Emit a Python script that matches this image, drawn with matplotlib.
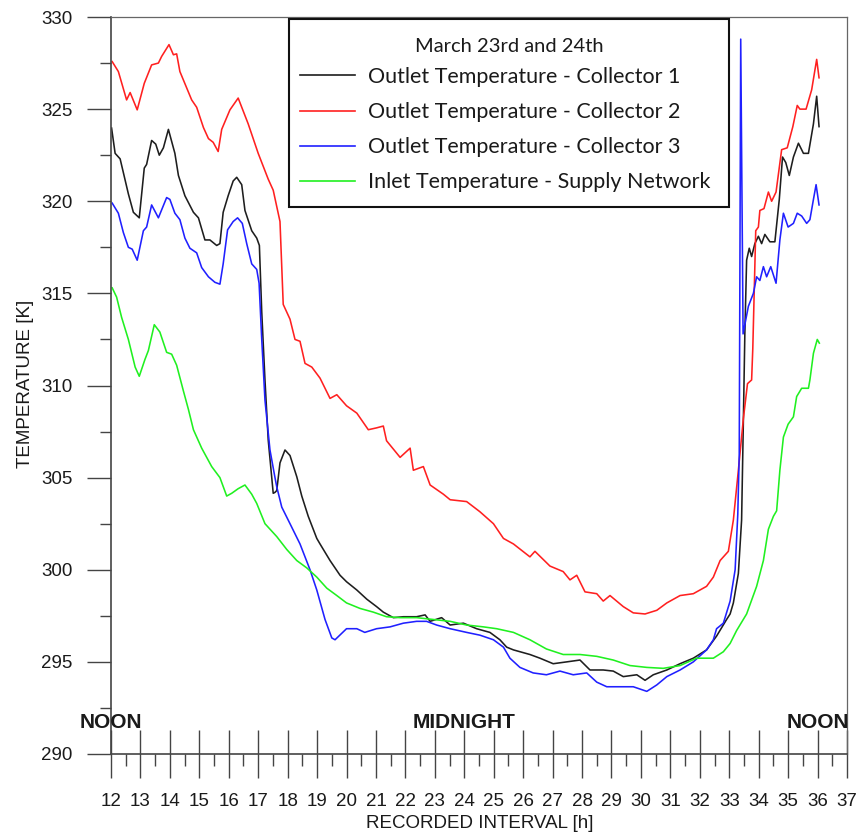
import matplotlib
matplotlib.use("Agg")
import matplotlib.pyplot as plt
from matplotlib.ticker import MultipleLocator
from matplotlib.patches import Rectangle

# ---------------- data ----------------
c1_h = [12.02, 12.14, 12.31, 12.59, 12.76, 12.96, 13.13, 13.21, 13.38, 13.52, 13.64, 13.78, 13.95,
        14.17, 14.29, 14.51, 14.80, 14.97, 15.19, 15.36, 15.59, 15.70, 15.81, 15.98, 16.15, 16.27,
        16.44, 16.55, 16.78, 16.95, 17.04, 17.12, 17.23, 17.34, 17.51, 17.57, 17.63, 17.74, 17.91,
        18.08, 18.31, 18.48, 18.70, 18.99, 19.10, 19.44, 19.78, 20.00, 20.35, 20.69, 21.02, 21.25,
        21.59, 21.93, 22.38, 22.67, 22.84, 23.23, 23.52, 23.97, 24.42, 24.87, 25.21, 25.44, 25.67,
        26.23, 26.57, 27.02, 27.48, 27.93, 28.27, 28.72, 29.06, 29.40, 29.86, 30.14, 30.42, 30.88,
        31.33, 31.78, 32.23, 32.57, 32.91, 33.03, 33.14, 33.31, 33.42, 33.48, 33.53, 33.59, 33.68,
        33.76, 33.87, 33.99, 34.10, 34.21, 34.38, 34.55, 34.70, 34.81, 34.92, 35.04, 35.18, 35.35,
        35.52, 35.69, 35.86, 35.97, 36.05]
c1_t = [323.97, 322.6, 322.3, 320.4, 319.4, 319.1, 321.8, 322.0, 323.3, 323.1, 322.5, 322.9, 323.9,
        322.6, 321.4, 320.3, 319.4, 319.1, 317.9, 317.9, 317.6, 317.7, 319.4, 320.3, 321.1, 321.3,
        320.9, 319.5, 318.4, 318.0, 317.6, 314.0, 310.3, 307.05, 304.15, 304.2, 304.3, 305.8, 306.5,
        306.2, 305.05, 304.0, 302.9, 301.7, 301.4, 300.5, 299.7, 299.35, 298.9, 298.4, 298.0, 297.7,
        297.4, 297.45, 297.45, 297.55, 297.2, 297.4, 297.0, 297.1, 296.8, 296.6, 296.2, 295.8, 295.65,
        295.4, 295.2, 294.9, 295.0, 295.1, 294.56, 294.56, 294.5, 294.2, 294.3, 294.0, 294.3, 294.56,
        294.9, 295.2, 295.65, 296.4, 297.3, 297.6, 298.2, 299.8, 302.7, 308.1, 312.8, 316.8, 317.45,
        317.0, 317.7, 318.1, 317.7, 318.2, 317.8, 317.8, 320.1, 322.4, 322.1, 321.4, 322.4, 323.15,
        322.6, 322.6, 324.2, 325.7, 324.05]

c2_h = [12.04, 12.25, 12.53, 12.65, 12.89, 13.13, 13.38, 13.61, 13.72, 13.97, 14.12, 14.23, 14.34,
        14.74, 14.91, 15.14, 15.31, 15.47, 15.64, 15.76, 16.04, 16.32, 16.66, 17.00, 17.34, 17.51,
        17.74, 17.85, 18.08, 18.25, 18.42, 18.59, 18.82, 19.10, 19.44, 19.67, 20.00, 20.35, 20.74,
        21.02, 21.25, 21.36, 21.82, 22.16, 22.27, 22.61, 22.84, 23.29, 23.52, 24.08, 24.53, 24.99,
        25.33, 25.67, 26.23, 26.40, 26.91, 27.36, 27.59, 27.82, 28.10, 28.50, 28.72, 28.95, 29.40,
        29.74, 30.14, 30.54, 30.88, 31.33, 31.78, 32.23, 32.46, 32.69, 32.97, 33.14, 33.31, 33.48,
        33.62, 33.76, 33.80, 33.90, 33.99, 34.04, 34.18, 34.33, 34.44, 34.59, 34.78, 34.97, 35.16,
        35.31, 35.40, 35.61, 35.80, 35.97, 36.05]
c2_t = [327.58, 327.04, 325.5, 325.9, 324.96, 326.4, 327.4, 327.5, 327.86, 328.5, 327.95, 328.0, 327.04,
        325.5, 325.1, 324.0, 323.4, 323.2, 322.7, 323.9, 324.96, 325.6, 324.2, 322.6, 321.2, 320.6,
        318.9, 314.4, 313.6, 312.5, 312.4, 311.2, 311.0, 310.4, 309.3, 309.5, 308.9, 308.5, 307.6,
        307.7, 307.8, 307.0, 306.1, 306.6, 305.4, 305.6, 304.6, 304.1, 303.8, 303.7, 303.15, 302.5,
        301.7, 301.4, 300.7, 301.0, 300.2, 299.9, 299.45, 299.7, 298.8, 298.7, 298.3, 298.6, 298.0,
        297.66, 297.6, 297.8, 298.2, 298.6, 298.7, 299.1, 299.6, 300.5, 301.0, 302.7, 305.4, 308.2,
        310.1, 310.3, 312.0, 318.4, 318.6, 319.5, 319.6, 320.5, 320.0, 320.5, 322.8, 322.9, 324.05,
        325.2, 325.0, 325.0, 326.05, 327.7, 326.7]

c3_h = [12.04, 12.25, 12.42, 12.59, 12.72, 12.89, 13.10, 13.21, 13.38, 13.61, 13.89, 14.00, 14.17,
        14.34, 14.51, 14.68, 14.91, 15.08, 15.31, 15.53, 15.70, 15.81, 15.96, 16.15, 16.30, 16.46,
        16.61, 16.78, 16.95, 17.03, 17.12, 17.23, 17.40, 17.57, 17.63, 17.80, 18.08, 18.42, 18.76,
        18.99, 19.27, 19.50, 19.61, 20.00, 20.35, 20.62, 21.02, 21.48, 21.93, 22.38, 22.72, 23.06,
        23.52, 24.08, 24.53, 24.99, 25.33, 25.55, 25.89, 26.34, 26.79, 27.25, 27.70, 28.16, 28.50,
        28.84, 29.29, 29.74, 30.20, 30.54, 30.88, 31.33, 31.78, 32.23, 32.46, 32.57, 32.80, 33.03,
        33.20, 33.29, 33.34, 33.39, 33.47, 33.65, 33.82, 33.93, 34.04, 34.16, 34.27, 34.41, 34.59,
        34.72, 34.84, 35.00, 35.18, 35.31, 35.46, 35.63, 35.74, 35.86, 35.95, 36.05]
c3_t = [319.9, 319.35, 318.3, 317.5, 317.4, 316.8, 318.4, 318.6, 319.8, 319.1, 320.2, 320.1, 319.35,
        319.0, 318.0, 317.45, 317.2, 316.4, 315.9, 315.6, 315.5, 316.6, 318.45, 318.9, 319.1, 318.8,
        317.7, 316.6, 316.3, 315.55, 312.5, 309.2, 306.5, 305.0, 304.5, 303.4, 302.5, 301.4, 300.0,
        298.9, 297.3, 296.3, 296.2, 296.8, 296.8, 296.6, 296.8, 296.9, 297.1, 297.2, 297.2, 297.0,
        296.8, 296.6, 296.45, 296.2, 295.8, 295.2, 294.7, 294.4, 294.3, 294.5, 294.3, 294.4, 293.9,
        293.65, 293.65, 293.65, 293.4, 293.75, 294.2, 294.56, 295.0, 295.65, 296.2, 296.8, 297.1, 298.3,
        300.0, 303.0, 306.3, 328.8, 312.8, 314.3, 315.0, 315.9, 315.7, 316.45, 315.9, 316.45, 315.55,
        317.9, 319.35, 318.6, 318.8, 319.35, 319.2, 318.8, 319.0, 320.1, 320.9, 319.8]

inlet_h = [12.04, 12.19, 12.36, 12.59, 12.82, 12.96, 13.15, 13.27, 13.47, 13.66, 13.89, 14.06, 14.23,
           14.46, 14.63, 14.80, 15.08, 15.42, 15.70, 15.93, 16.10, 16.32, 16.55, 16.78, 16.95, 17.23,
           17.63, 17.97, 18.31, 18.65, 18.99, 19.33, 19.67, 20.00, 20.46, 20.91, 21.36, 21.82, 22.38,
           22.95, 23.52, 24.08, 24.65, 25.10, 25.67, 26.23, 26.79, 27.36, 27.93, 28.50, 29.06, 29.63,
           30.20, 30.76, 31.33, 31.89, 32.46, 32.80, 33.03, 33.25, 33.59, 33.93, 34.16, 34.33, 34.50,
           34.61, 34.72, 34.84, 35.00, 35.18, 35.29, 35.46, 35.69, 35.74, 35.86, 35.99, 36.06]
inlet_t = [315.3, 314.8, 313.7, 312.5, 311.0, 310.5, 311.4, 311.9, 313.3, 312.9, 311.8, 311.7, 311.1,
           309.7, 308.7, 307.6, 306.6, 305.6, 305.0, 304.0, 304.15, 304.4, 304.6, 304.1, 303.6, 302.5,
           301.8, 301.1, 300.5, 300.1, 299.6, 299.0, 298.6, 298.2, 297.9, 297.7, 297.45, 297.4, 297.4,
           297.3, 297.2, 297.0, 296.9, 296.8, 296.6, 296.2, 295.7, 295.4, 295.4, 295.3, 295.1, 294.8,
           294.7, 294.65, 294.8, 295.2, 295.2, 295.55, 296.0, 296.7, 297.6, 299.1, 300.5, 302.2, 302.9,
           303.2, 305.4, 307.2, 307.9, 308.3, 309.4, 309.85, 309.85, 310.3, 311.75, 312.5, 312.3]

series_labels = ["Outlet Temperature - Collector 1", "Outlet Temperature - Collector 2",
                 "Outlet Temperature - Collector 3", "Inlet Temperature - Supply Network"]
legend_title = "March 23rd and 24th"
marker_labels = ["NOON", "MIDNIGHT", "NOON"]
marker_hours = [12, 24, 36]
x_ticks = list(range(12, 38))
y_ticks = list(range(290, 331, 5))

# ---------------- figure ----------------
W, H = 857, 836
fig = plt.figure(figsize=(W / 100, H / 100), dpi=100)
L, R, B, T = 111, 847, 754, 17
ax = fig.add_axes([L / W, 1 - B / H, (R - L) / W, (B - T) / H])

tick_font = "Liberation Sans"
text_col = "#1a1a1a"

colors = ["#1e1e1e", "#ff2020", "#2020ff", "#20f020"]
lw = 1.15
for hs, ts, c, lab in zip([c1_h, c2_h, c3_h, inlet_h], [c1_t, c2_t, c3_t, inlet_t], colors, series_labels):
    ax.plot(hs, ts, color=c, lw=lw, label=lab, solid_joinstyle="round")

ax.set_xlim(12, 37)
ax.set_ylim(290, 330)

ax.xaxis.set_major_locator(MultipleLocator(1))
ax.xaxis.set_minor_locator(MultipleLocator(0.5))
ax.yaxis.set_major_locator(MultipleLocator(5))
ax.yaxis.set_minor_locator(MultipleLocator(2.5))
ax.set_xticks(x_ticks)
ax.set_yticks(y_ticks)
ax.set_xticklabels([str(v) for v in x_ticks])
ax.set_yticklabels([str(v) for v in y_ticks])

spine_col = "#444444"
ax.tick_params(axis="x", which="major", direction="inout", length=34.6, width=1.0,
               color=spine_col, pad=11.0, labelsize=13.5, labelcolor=text_col)
ax.tick_params(axis="x", which="minor", direction="out", length=8.6, width=1.0, color=spine_col)
ax.tick_params(axis="y", which="major", direction="out", length=17.3, width=1.0,
               color=spine_col, pad=10.5, labelsize=13.5, labelcolor=text_col)
ax.tick_params(axis="y", which="minor", direction="out", length=8.0, width=1.0, color=spine_col)
for lab in ax.get_xticklabels() + ax.get_yticklabels():
    lab.set_fontfamily(tick_font)

for side in ["left", "bottom"]:
    ax.spines[side].set_color(spine_col)
    ax.spines[side].set_linewidth(1.2)
for side in ["top", "right"]:
    ax.spines[side].set_color("#666666")
    ax.spines[side].set_linewidth(0.9)

ax.set_xlabel("RECORDED INTERVAL [h]", fontsize=13.5, family=tick_font, color=text_col)
ax.set_ylabel("TEMPERATURE [K]", fontsize=13.5, family=tick_font, color=text_col)
ax.xaxis.set_label_coords((480 - L) / (R - L), -(815 - B) / (B - T))
ax.yaxis.set_label_coords(-(111 - 34) / (R - L), (B - 384) / (B - T))

for hr, txt in zip(marker_hours, marker_labels):
    ax.text(hr, 291.7, txt, ha="center", va="center", fontsize=15, fontweight="bold",
            family=tick_font, color=text_col, clip_on=False)

# legend (content) + separate frame box and title
def ax_x(px):
    return (px - L) / (R - L)

def ax_y(py):
    return (B - py) / (B - T)

leg_fs = 15.5
leg = ax.legend(loc="upper left",
                bbox_to_anchor=(ax_x(300), ax_y(67), ax_x(718) - ax_x(300), 0.0),
                mode="expand", borderaxespad=0.0, borderpad=0.0,
                prop={"family": "Lato", "size": leg_fs},
                frameon=False, handlelength=55 / (leg_fs * 100 / 72),
                handletextpad=13 / (leg_fs * 100 / 72), labelspacing=0.70)
for line in leg.get_lines():
    line.set_linewidth(1.2)
for t in leg.get_texts():
    t.set_color(text_col)
leg.set_zorder(5)

box = Rectangle((ax_x(289), ax_y(207)), ax_x(729) - ax_x(289), ax_y(19) - ax_y(207),
                transform=ax.transAxes, fill=True, facecolor="white", edgecolor="#111111",
                linewidth=1.5, zorder=4.5, clip_on=False)
ax.add_patch(box)
ax.text(ax_x(509), ax_y(47), legend_title, transform=ax.transAxes, ha="center", va="center",
        fontsize=14.5, family="Lato", color=text_col, zorder=5)

fig.savefig("out.png", dpi=100, facecolor="white")
